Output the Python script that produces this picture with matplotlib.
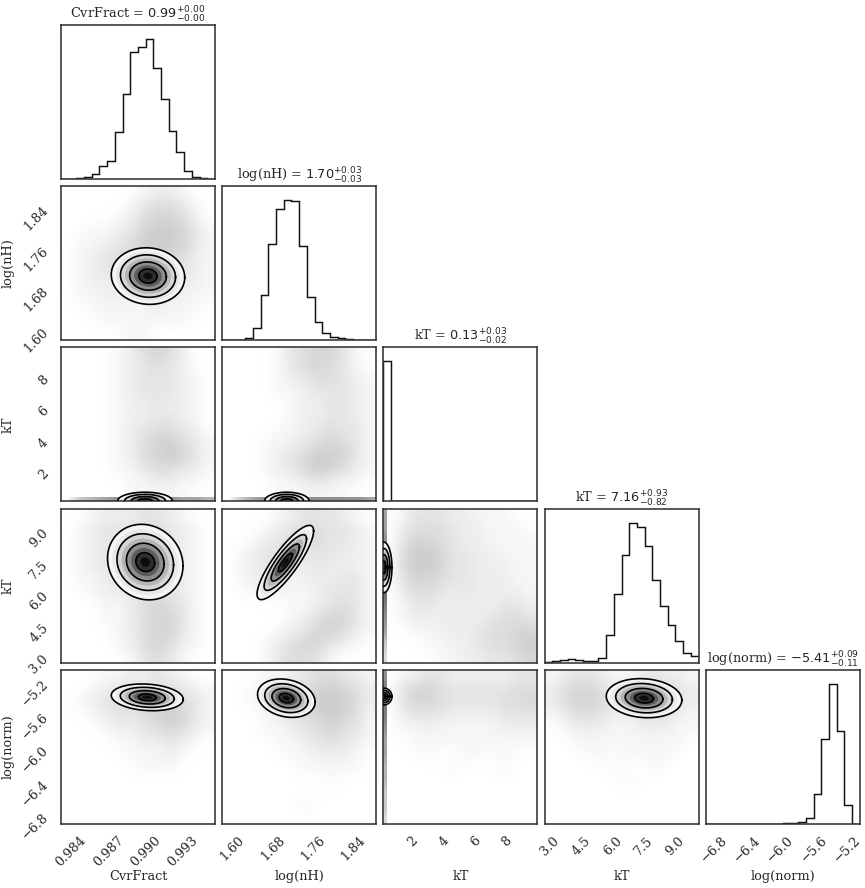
import numpy as np
import matplotlib
matplotlib.use("Agg")
import matplotlib.pyplot as plt
from matplotlib.colors import LinearSegmentedColormap
from matplotlib.ticker import ScalarFormatter

plt.rcParams["font.family"] = ["DejaVu Serif"]
plt.rcParams["mathtext.fontset"] = "dejavusans"
plt.rcParams["axes.unicode_minus"] = True

# parameter names, plot ranges, ticks and titles
labels = ["CvrFract", "log(nH)", "kT", "kT", "log(norm)"]
ranges = [(0.98319, 0.9956), (1.580, 1.885), (0.10, 10.0), (2.76, 10.1), (-6.895, -5.05)]
ticks = [
    [0.984, 0.987, 0.990, 0.993],
    [1.60, 1.68, 1.76, 1.84],
    [2, 4, 6, 8],
    [3.0, 4.5, 6.0, 7.5, 9.0],
    [-6.8, -6.4, -6.0, -5.6, -5.2],
]
titles = [
    r"CvrFract = $0.99^{+0.00}_{-0.00}$",
    r"log(nH) = $1.70^{+0.03}_{-0.03}$",
    r"kT = $0.13^{+0.03}_{-0.02}$",
    r"kT = $7.16^{+0.93}_{-0.82}$",
    r"log(norm) = $-5.41^{+0.09}_{-0.11}$",
]

# 1D marginal histograms, 20 bins over each range (relative counts)
hist_cvrfract = [0, 1, 2, 7, 15, 39, 54, 140, 253, 380, 394, 419, 332, 240, 144, 80, 24, 7, 2, 0]
hist_lognh = [0, 0, 2, 7, 37, 135, 289, 394, 420, 417, 282, 129, 54, 22, 10, 6, 4, 2, 1, 0]
hist_kt1 = [1000, 1, 1, 3, 4, 3, 2, 2, 1, 1, 1, 1, 1, 1, 1, 1, 2, 2, 3, 3]
hist_kt2 = [1, 4, 8, 11, 9, 6, 4, 15, 81, 206, 321, 418, 405, 348, 248, 168, 113, 63, 28, 21]
hist_lognorm = [0, 0, 0, 0, 0, 0, 0, 0, 0, 0, 1, 2, 4, 17, 90, 254, 419, 277, 57, 0]
hists = [hist_cvrfract, hist_lognh, hist_kt1, hist_kt2, hist_lognorm]

# scatter-cloud density (rows top -> bottom, 0..9)
cloud_1_0 = ["000000122100", "000001344310", "000012455420", "001123566531",
             "011234666531", "012344555421", "012333444321", "012222333221",
             "011222232211", "001111121110", "000111111100", "000001100000"]
cloud_2_0 = ["000012454200", "000012343200", "000012333210", "000012333210",
             "000012232210", "000012233210", "000012344320", "000012456431",
             "000012456531", "000011344321", "000001122110", "000001111100"]
cloud_2_1 = ["000013455310", "000013454310", "000012344321", "000011233321",
             "000001223321", "000001223321", "000011234331", "000112345431",
             "000123466531", "000123565421", "000011232110", "000011111100"]
cloud_3_0 = ["001222332100", "012333443210", "012333443210", "012333443210",
             "012333443210", "011233343210", "001223343210", "000112454310",
             "000112455310", "000012455310", "000012454210", "000001343100"]
cloud_3_1 = ["000012333210", "000123443321", "001234443321", "012343333221",
             "012332232221", "012221222331", "001111123331", "000001123431",
             "000001245531", "000012355421", "000124553210", "000134431000"]
cloud_3_2 = ["013332211100", "024443221110", "035543221111", "046653322111",
             "046653322211", "035543322211", "024432322221", "013322222332",
             "012222223443", "001122234455", "000112234456", "000011223345"]
cloud_4_0 = ["000112232100", "001233344321", "012344455431", "001233456531",
             "000122345421", "000011223210", "000001112100", "000000111000",
             "000000000000", "000000000000", "000000000000", "000000000000"]
cloud_4_1 = ["000112344321", "001233456542", "001234566642", "000123456541",
             "000112345431", "000011234321", "000001122210", "000000111110",
             "000000001000", "000000000000", "000000100000", "000000000000"]
cloud_4_2 = ["012332222233", "035543333344", "035543333445", "023332222333",
             "011211111222", "001111111111", "000100110100", "000001000100",
             "000000000000", "000000000000", "000000000000", "000000000000"]
cloud_4_3 = ["123321123221", "245542245432", "245543245432", "124432234321",
             "012221122211", "001111111110", "000110111100", "000001001000",
             "000000100000", "000000000000", "000000000000", "000000000000"]
clouds = {(1, 0): cloud_1_0, (2, 0): cloud_2_0, (2, 1): cloud_2_1,
          (3, 0): cloud_3_0, (3, 1): cloud_3_1, (3, 2): cloud_3_2,
          (4, 0): cloud_4_0, (4, 1): cloud_4_1, (4, 2): cloud_4_2,
          (4, 3): cloud_4_3}

# thin pile-up of samples at kT ~ 0.1 (along the other parameter)
bands = {(2, 0): "034566666554", (2, 1): "035666666665",
         (3, 2): "556778876532", (4, 2): "677765544332"}

# contour core: centre x, centre y, sigma x, sigma y, correlation
cores = {
    (1, 0): (0.99020, 1.707, 0.00148, 0.028, -0.05),
    (2, 0): (0.98996, 0.13, 0.00110, 0.28, 0.0),
    (2, 1): (1.708, 0.13, 0.022, 0.28, 0.0),
    (3, 0): (0.98998, 7.55, 0.00152, 0.90, -0.10),
    (3, 1): (1.705, 7.53, 0.028, 0.885, 0.85),
    (3, 2): (0.13, 7.30, 0.26, 0.60, 0.0),
    (4, 0): (0.99014, -5.38, 0.00145, 0.080, -0.15),
    (4, 1): (1.707, -5.39, 0.0285, 0.115, -0.20),
    (4, 2): (0.13, -5.37, 0.26, 0.050, 0.0),
    (4, 3): (7.50, -5.39, 0.90, 0.117, -0.10),
}

cloud_cmap = LinearSegmentedColormap.from_list("cloud", ["white", "#b4b4b4"])
band_cmap = LinearSegmentedColormap.from_list("band", ["white", "#5a5a5a"])
spine_col = "#333333"
text_col = "#262626"
fs = 9.25


def grid(rows):
    return np.array([[int(c) for c in r] for r in rows], dtype=float)


def ellipse(core, k):
    cx, cy, sx, sy, rho = core
    cov = np.array([[sx * sx, rho * sx * sy], [rho * sx * sy, sy * sy]])
    L = np.linalg.cholesky(cov)
    t = np.linspace(0, 2 * np.pi, 120)
    pts = k * L @ np.vstack([np.cos(t), np.sin(t)])
    return cx + pts[0], cy + pts[1]


fig = plt.figure(figsize=(8.65, 8.88), dpi=100)
W, H = 865.0, 888.0
n = len(labels)

for i in range(n):
    for j in range(i + 1):
        ax = fig.add_axes([(61 + j * 161.2) / W, 1 - (25 + i * 161.2 + 154) / H,
                           154 / W, 154 / H])
        x0, x1 = ranges[j]
        if i == j:
            edges = np.linspace(x0, x1, len(hists[i]) + 1)
            ax.stairs(hists[i], edges, color="#111111", lw=1.05)
            ax.set_ylim(0, 1.1 * max(hists[i]))
            ax.set_yticks([])
            ax.set_title(titles[i], fontsize=fs, color=text_col, pad=4.5)
        else:
            y0, y1 = ranges[i]
            ax.imshow(grid(clouds[(i, j)]), extent=[x0, x1, y0, y1], origin="upper",
                      aspect="auto", cmap=cloud_cmap, vmin=0, vmax=9,
                      interpolation="bicubic", zorder=0)
            if (i, j) in bands:
                b = grid([bands[(i, j)]])
                if i == 2:
                    w = (y1 - y0) / 45
                    ax.imshow(b, extent=[x0, x1, y0, y0 + w], aspect="auto",
                              cmap=band_cmap, vmin=0, vmax=9,
                              interpolation="bilinear", zorder=1)
                else:
                    w = (x1 - x0) / 45
                    ax.imshow(b.T, extent=[x0, x0 + w, y0, y1], aspect="auto",
                              origin="upper", cmap=band_cmap, vmin=0, vmax=9,
                              interpolation="bilinear", zorder=1)
            core = cores[(i, j)]
            for k in np.arange(2.0, 0.1, -0.25):
                ex, ey = ellipse(core, k)
                g = 1 - np.exp(-0.5 * k * k) ** 1.6
                ax.fill(ex, ey, color=(g, g, g), lw=0, zorder=2)
            for k in [2.0, 1.5, 1.0, 0.5]:
                ex, ey = ellipse(core, k)
                ax.plot(ex, ey, color="k", lw=1.2, zorder=3)
            ax.set_ylim(y0, y1)
            ax.set_yticks(ticks[i])
            ax.yaxis.set_major_formatter(ScalarFormatter(useOffset=False))
            if j == 0:
                for lab in ax.get_yticklabels():
                    lab.set_rotation(45)
                ax.set_ylabel(labels[i], fontsize=fs, color=text_col)
                ax.yaxis.set_label_coords(-0.3, 0.5)
            else:
                ax.set_yticklabels([])
        ax.set_xlim(x0, x1)
        ax.set_xticks(ticks[j])
        ax.xaxis.set_major_formatter(ScalarFormatter(useOffset=False))
        if i == n - 1:
            for lab in ax.get_xticklabels():
                lab.set_rotation(45)
            ax.set_xlabel(labels[j], fontsize=fs, color=text_col)
            ax.xaxis.set_label_coords(0.5, -0.3)
        else:
            ax.set_xticklabels([])
        ax.tick_params(length=0, pad=7.3, labelsize=fs, labelcolor=text_col)
        for s in ax.spines.values():
            s.set_color(spine_col)
            s.set_linewidth(1.15)

fig.savefig("out.png", dpi=100)
